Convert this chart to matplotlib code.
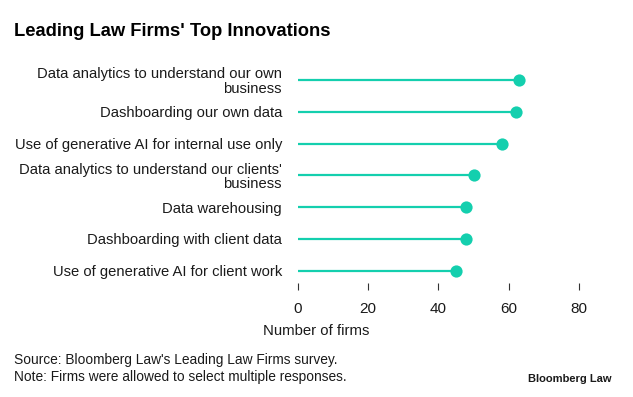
import matplotlib
matplotlib.use("Agg")
import matplotlib.pyplot as plt

plt.rcParams['font.family'] = ['Liberation Sans', 'DejaVu Sans']

# data
innovations = [
    "Data analytics to understand our own\nbusiness",
    "Dashboarding our own data",
    "Use of generative AI for internal use only",
    "Data analytics to understand our clients'\nbusiness",
    "Data warehousing",
    "Dashboarding with client data",
    "Use of generative AI for client work",
]
firms = [63, 62, 58, 50, 48, 48, 45]
xticks = [0, 20, 40, 60, 80]

teal = "#14CFAE"
txt = "#1a1a1a"

fig = plt.figure(figsize=(6.33, 3.97), dpi=100)
ax = fig.add_axes([0.4703, 0.2872, 0.4444, 0.5513])

rows = list(range(len(innovations)))
ax.hlines(rows, 0, firms, color=teal, lw=1.6, zorder=2)
ax.plot(firms, rows, 'o', color=teal, ms=8.8, mec='none', zorder=3)

ax.set_xlim(0, 80)
ax.set_ylim(6.39, -0.5)
ax.set_xticks(xticks)
ax.set_xticklabels([str(t) for t in xticks], fontsize=11, color=txt)
ax.set_yticks(rows)
ax.set_yticklabels(innovations, fontsize=10.6, color=txt, linespacing=1.02)
ax.tick_params(axis='x', length=5, width=0.8, color='#333333', pad=8.5)
ax.tick_params(axis='y', length=0, pad=11.3)
for s in ax.spines.values():
    s.set_visible(False)

fig.text(14/633, 1 - 32/397, "Leading Law Firms' Top Innovations",
         fontsize=13.2, fontweight='bold', color='black', va='center')
fig.text(263/633, 1 - 331/397, "Number of firms", fontsize=10.7, color=txt, va='center')
fig.text(14/633, 1 - 360/397, "Source: Bloomberg Law's Leading Law Firms survey.",
         fontsize=9.9, color=txt, va='center')
fig.text(14/633, 1 - 377/397, "Note: Firms were allowed to select multiple responses.",
         fontsize=9.9, color=txt, va='center')
fig.text(612/633, 1 - 379/397, "Bloomberg Law", fontsize=8, fontweight='bold',
         color=txt, va='center', ha='right')

fig.savefig("out.png", dpi=100)
